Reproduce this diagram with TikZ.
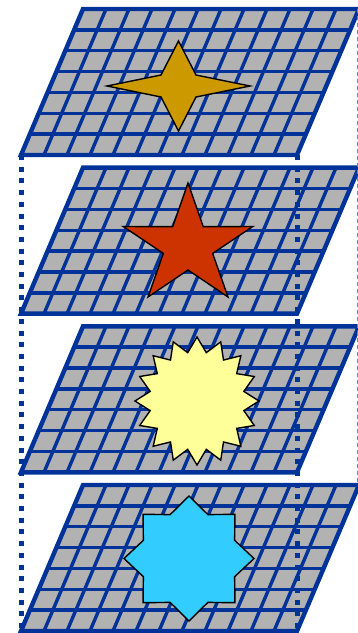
\documentclass[tikz,border=0pt]{standalone}
\definecolor{gridblue}{HTML}{003399}
\definecolor{cellgray}{HTML}{B2B2B2}
\definecolor{hidblue}{HTML}{6F86B8}
\definecolor{goldc}{HTML}{CC9900}
\definecolor{redc}{HTML}{CC3300}
\definecolor{yelc}{HTML}{FFFF99}
\definecolor{cyanc}{HTML}{33CCFF}
\tikzset{
  gridline/.style={draw=gridblue, line width=3.4pt},
  planeborder/.style={draw=gridblue, line width=4.4pt, line join=miter},
  dotline/.style={draw=gridblue, line width=5pt, dash pattern=on 5pt off 6.7pt},
  hiddenline/.style={draw=hidblue, line width=1pt, dash pattern=on 4pt off 3pt},
  starshape/.style={draw=black, line width=1.4pt, line join=miter}
}
\begin{document}
\begin{tikzpicture}[x=1pt,y=-1pt]
\useasboundingbox (0,0) rectangle (358,633);
% planes
\foreach \t [count=\k] in {9,167.67,326.33,485}{
  \pgfmathsetmacro\b{\t+146}
  \fill[cellgray] (21,\b) -- (297,\b) -- (359,\t) -- (83,\t) -- cycle;
  \foreach \i in {1,...,6} \draw[gridline] ({21+62*\i/7},{\b-146*\i/7}) -- ++(276,0);
  \foreach \j in {1,...,11} \draw[gridline] ({21+23*\j},\b) -- ++(62,-146);
  \draw[planeborder] (21,\b) coordinate (bl\k) -- (297,\b) coordinate (br\k)
     -- (359,\t) coordinate (tr\k) -- (83,\t) coordinate (tl\k) -- cycle;
}
% box edges
\draw[hiddenline] ([xshift=-2pt]tr1) -- ([xshift=-2pt]tr4);
\draw[dotline] (bl1) -- (bl4);
\draw[dotline] (br1) -- (br4);
% four-point star
\draw[starshape, fill=goldc] (178.5,41) -- (196,75) -- (250,86) -- (196,97)
  -- (178.5,131) -- (161,97) -- (107,86) -- (161,75) -- cycle;
% five-point star
\draw[starshape, fill=redc] (188,183)
  \foreach \n [evaluate=\n as \r using {63-39*mod(\n,2)}] in {1,...,9}{
    -- ({188+1.08*\r*cos(90+36*\n)},{246-\r*sin(90+36*\n)}) } -- cycle;
% sixteen-point star
\draw[starshape, fill=yelc] (197,337)
  \foreach \n [evaluate=\n as \r using {1-0.23*mod(\n,2)}] in {1,...,31}{
    -- ({197+62*\r*cos(90+11.25*\n)},{401-64*\r*sin(90+11.25*\n)}) } -- cycle;
% eight-point star
\draw[starshape, fill=cyanc] (189,496)
  \foreach \n [evaluate=\n as \r using {1-0.24*mod(\n,2)}] in {1,...,15}{
    -- ({189+65*\r*cos(90+22.5*\n)},{558.5-62.5*\r*sin(90+22.5*\n)}) } -- cycle;
\end{tikzpicture}
\end{document}
